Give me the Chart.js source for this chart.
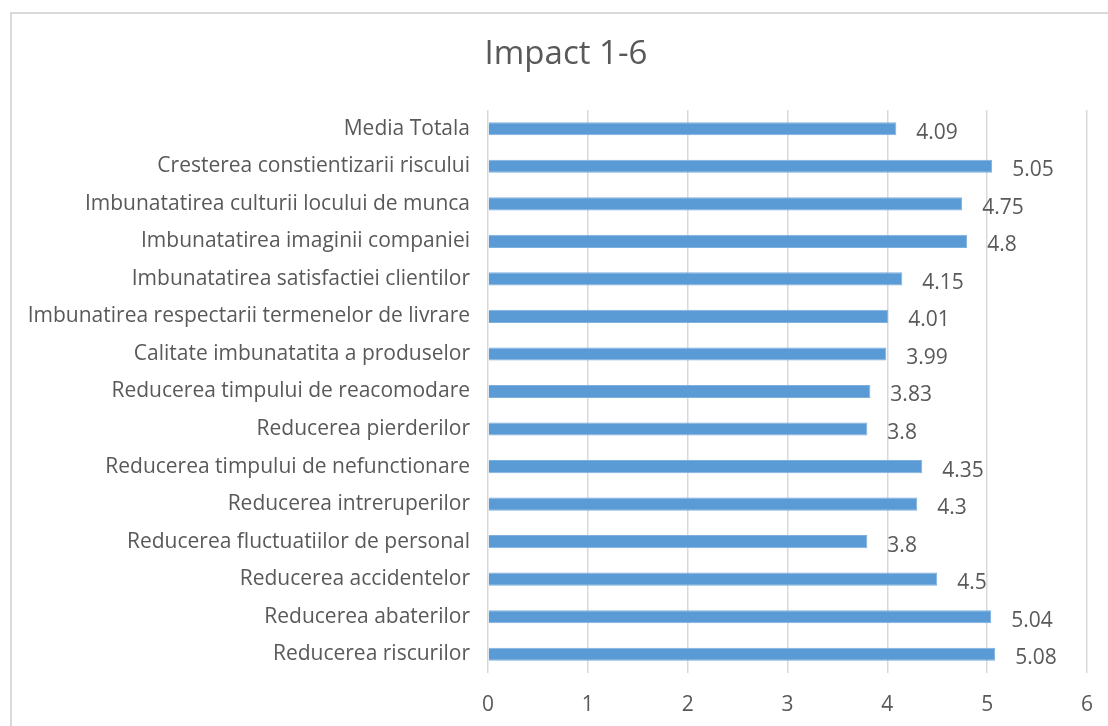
<!DOCTYPE html>
<html>
<head>
<meta charset="utf-8">
<script src="https://cdn.jsdelivr.net/npm/chart.js@4/dist/chart.umd.min.js"></script>
<style>
  html, body { margin: 0; padding: 0; background: #fff; }
  #wrap { position: relative; width: 1108px; height: 726px; overflow: hidden; }
  #frame { position: absolute; left: 10px; top: 12px; width: 1120px; height: 730px;
           border: 2px solid #d9d9d9; box-sizing: border-box; pointer-events: none; }
  canvas { position: absolute; left: 0; top: 0; }
</style>
</head>
<body>
<div id="wrap">
  <canvas id="chart" width="1108" height="726"></canvas>
  <div id="frame"></div>
</div>
<script>
const title = 'Impact 1-6'
const categories = [
  'Media Totala',
  'Cresterea constientizarii riscului',
  'Imbunatatirea culturii locului de munca',
  'Imbunatatirea imaginii companiei',
  'Imbunatatirea satisfactiei clientilor',
  'Imbunatirea respectarii termenelor de livrare',
  'Calitate imbunatatita a produselor',
  'Reducerea timpului de reacomodare',
  'Reducerea pierderilor',
  'Reducerea timpului de nefunctionare',
  'Reducerea intreruperilor',
  'Reducerea fluctuatiilor de personal',
  'Reducerea accidentelor',
  'Reducerea abaterilor',
  'Reducerea riscurilor'
]
const values = [4.09, 5.05, 4.75, 4.8, 4.15, 4.01, 3.99, 3.83, 3.8, 4.35, 4.3, 3.8, 4.5, 5.04, 5.08]
const xTicks = [0, 1, 2, 3, 4, 5, 6]

const fontFamily = "'Open Sans', 'Liberation Sans', sans-serif"
const textColor = '#595959'

// value labels at the end of each bar
const barLabels = {
  id: 'barLabels',
  afterDatasetsDraw(chart) {
    const ctx = chart.ctx
    const meta = chart.getDatasetMeta(0)
    ctx.save()
    ctx.font = `21px ${fontFamily}`
    ctx.fillStyle = textColor
    ctx.textAlign = 'left'
    ctx.textBaseline = 'middle'
    meta.data.forEach((bar, i) => {
      ctx.fillText(String(values[i]), bar.x + 20, bar.y + 4)
    })
    ctx.restore()
  }
}

// title is centred on the chart frame, not on the canvas
const frameTitle = {
  id: 'frameTitle',
  afterDraw(chart) {
    const ctx = chart.ctx
    ctx.save()
    ctx.font = `33px ${fontFamily}`
    ctx.fillStyle = textColor
    ctx.textAlign = 'center'
    ctx.textBaseline = 'middle'
    ctx.fillText(title, 566, 55)
    ctx.restore()
  }
}

const config = {
  type: 'bar',
  data: {
    labels: categories,
    datasets: [{
      data: values,
      backgroundColor: '#5b9bd5',
      borderColor: '#7eb0de',
      borderWidth: 1,
      barPercentage: 0.7,
      categoryPercentage: 0.5
    }]
  },
  options: {
    indexAxis: 'y',
    responsive: false,
    animation: false,
    layout: { padding: { left: 0, right: 21, top: 110, bottom: 0 } },
    plugins: {
      legend: { display: false },
      tooltip: { enabled: false },
      title: { display: false }
    },
    scales: {
      x: {
        min: 0,
        max: 6,
        afterBuildTicks(scale) { scale.ticks = xTicks.map(v => ({ value: v })) },
        afterFit(scale) {
          scale.height = 53
          scale.paddingLeft = 0
          scale.paddingRight = 0
        },
        grid: { color: '#d9d9d9', lineWidth: 1.5, drawTicks: false },
        border: { display: false },
        ticks: { color: textColor, font: { family: fontFamily, size: 21 }, padding: 19 }
      },
      y: {
        afterFit(scale) { scale.width = 488 },
        grid: { display: false, drawTicks: false },
        border: { display: false },
        ticks: { color: textColor, font: { family: fontFamily, size: 21 }, padding: 18, autoSkip: false }
      }
    }
  },
  plugins: [barLabels, frameTitle]
}

const myChart = new Chart(document.getElementById('chart'), config)
</script>
</body>
</html>
